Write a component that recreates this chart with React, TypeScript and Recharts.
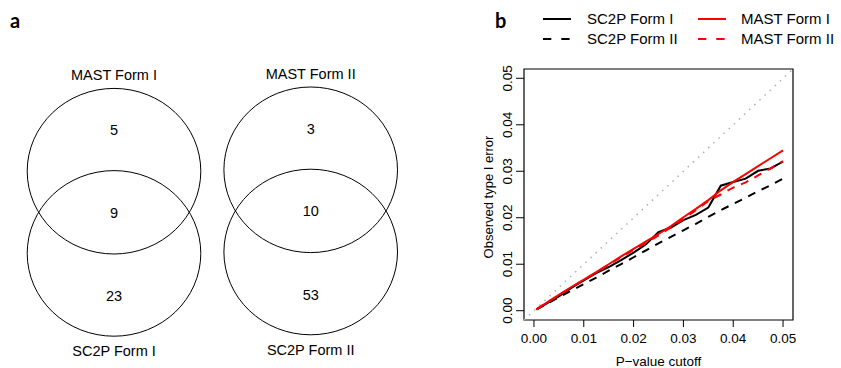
import React from "react";
import {
  Label,
  Legend,
  Line,
  LineChart,
  ReferenceArea,
  ReferenceLine,
  Scatter,
  ScatterChart,
  XAxis,
  YAxis,
} from "recharts";

const FONT = '"Liberation Sans", Arial, Helvetica, sans-serif';

// panel a: overlap of DE genes
const mastLabels = ["MAST Form I", "MAST Form II"];
const sc2pLabels = ["SC2P Form I", "SC2P Form II"];
const mastOnly = [5, 3];
const shared = [9, 10];
const sc2pOnly = [23, 53];

// panel b: observed type I error vs cutoff
const pCutoffs = [
  0.0005, 0.0025, 0.005, 0.0075, 0.01, 0.0125, 0.015, 0.0175, 0.02, 0.0225, 0.025,
  0.0275, 0.03, 0.0325, 0.035, 0.0375, 0.04, 0.0425, 0.045, 0.0475, 0.05,
];
const sc2pFormI = [
  0.0003, 0.0015, 0.0031, 0.0049, 0.0065, 0.0081, 0.0094, 0.0109, 0.0125, 0.0143, 0.0169,
  0.0179, 0.0195, 0.0206, 0.0222, 0.0269, 0.0277, 0.0284, 0.0301, 0.0306, 0.0321,
];
const sc2pFormII = [
  0.0003, 0.0014, 0.0029, 0.0043, 0.0057, 0.0071, 0.0086, 0.01, 0.0115, 0.013, 0.0145,
  0.0159, 0.0173, 0.0187, 0.0202, 0.0216, 0.023, 0.0243, 0.0257, 0.027, 0.0284,
];
const mastFormI = [
  0.0003, 0.0017, 0.0034, 0.0051, 0.0067, 0.0083, 0.01, 0.0117, 0.0133, 0.0149, 0.0165,
  0.0182, 0.0201, 0.0219, 0.0238, 0.0259, 0.0277, 0.0294, 0.0311, 0.0328, 0.0345,
];
const mastFormII = [
  0.0003, 0.0017, 0.0033, 0.005, 0.0066, 0.0082, 0.0099, 0.0115, 0.0131, 0.0146, 0.0162,
  0.0179, 0.0197, 0.0216, 0.0236, 0.025, 0.0265, 0.0276, 0.0291, 0.0306, 0.0322,
];
const axisTicks = [0, 0.01, 0.02, 0.03, 0.04, 0.05];

const series = [
  { key: "sc2pI", name: "SC2P Form I", values: sc2pFormI, color: "#000", dash: undefined },
  { key: "sc2pII", name: "SC2P Form II", values: sc2pFormII, color: "#000", dash: "8 7" },
  { key: "mastI", name: "MAST Form I", values: mastFormI, color: "#f00", dash: undefined },
  { key: "mastII", name: "MAST Form II", values: mastFormII, color: "#f00", dash: "8 7" },
];

const rows = pCutoffs.map((p, i) => {
  const row: Record<string, number> = { p };
  series.forEach((s) => (row[s.key] = s.values[i]));
  return row;
});

// venn layout (pixels)
const pairX = [114, 310.7];
const pairTop = [171.2, 169.8];
const circleGap = 82.2;
const RX = 86.8;
const RY = 82.8;

const circles = pairX.flatMap((x, i) => [
  { x, y: pairTop[i] },
  { x, y: pairTop[i] + circleGap },
]);
const vennText = pairX.flatMap((x, i) => [
  { x, y: pairTop[i] - 96.5, text: mastLabels[i] },
  { x, y: pairTop[i] - 41.3, text: String(mastOnly[i]) },
  { x, y: pairTop[i] + 41.3, text: String(shared[i]) },
  { x, y: pairTop[i] + 124.8, text: String(sc2pOnly[i]) },
  { x, y: pairTop[i] + 180, text: sc2pLabels[i] },
]);

const LO = -0.002;
const HI = 0.052;

function VennPanel() {
  return (
    <ScatterChart width={420} height={368} margin={{ top: 0, right: 0, bottom: 0, left: 0 }}>
      <XAxis type="number" dataKey="x" domain={[0, 420]} hide />
      <YAxis type="number" dataKey="y" domain={[0, 368]} reversed hide />
      <Scatter
        data={circles}
        isAnimationActive={false}
        shape={(props: any) => (
          <ellipse cx={props.cx} cy={props.cy} rx={RX} ry={RY} fill="none" stroke="#000" strokeWidth={1} />
        )}
      />
      <Scatter
        data={vennText}
        isAnimationActive={false}
        shape={(props: any) => (
          <text
            x={props.cx}
            y={props.cy}
            dy="0.36em"
            textAnchor="middle"
            fontFamily={FONT}
            fontSize={14.5}
            fill="#000"
          >
            {props.payload.text}
          </text>
        )}
      />
    </ScatterChart>
  );
}

const YTick = (props: any) => (
  <text
    transform={`translate(86.7, ${props.y}) rotate(-90)`}
    dy="0.36em"
    textAnchor="middle"
    fontFamily={FONT}
    fontSize={13.5}
    fill="#000"
  >
    {Number(props.payload.value).toFixed(2)}
  </text>
);

const legendCols = [
  { lineX: 123, textX: 167 },
  { lineX: 278, textX: 321 },
];

const renderLegend = () => (
  <svg width={421} height={50} style={{ position: "absolute", left: 0, top: 0, overflow: "visible" }}>
    {series.map((s, i) => {
      const col = legendCols[Math.floor(i / 2)];
      const y = i % 2 === 0 ? 19 : 39;
      return (
        <g key={s.key}>
          <line
            x1={col.lineX}
            x2={col.lineX + 28}
            y1={y}
            y2={y}
            stroke={s.color}
            strokeWidth={2}
            strokeDasharray={s.dash ? "8.3 10" : undefined}
          />
          <text x={col.textX} y={y} dy="0.36em" fontFamily={FONT} fontSize={15} fill="#000">
            {s.name}
          </text>
        </g>
      );
    })}
  </svg>
);

function ErrorPanel() {
  return (
    <LineChart width={421} height={368} data={rows} margin={{ top: 69, right: 48, bottom: 18, left: 64 }}>
      <Legend
        verticalAlign="top"
        align="left"
        content={renderLegend}
        wrapperStyle={{ top: 0, left: 0, height: 0, width: 421 }}
      />
      <XAxis
        type="number"
        dataKey="p"
        domain={[LO, HI]}
        ticks={axisTicks}
        height={30}
        tickSize={7}
        tickMargin={6}
        axisLine={false}
        stroke="#000"
        tickFormatter={(v: number) => v.toFixed(2)}
        tick={{ fill: "#000", fontSize: 13.5, fontFamily: FONT }}
      >
        <Label
          content={(props: any) => (
            <text x={238.5} y={366} textAnchor="middle" fontFamily={FONT} fontSize={13.5} fill="#000">
              P−value cutoff
            </text>
          )}
        />
      </XAxis>
      <YAxis
        type="number"
        domain={[LO, HI]}
        ticks={axisTicks}
        width={40}
        tickSize={8}
        axisLine={false}
        stroke="#000"
        tick={YTick}
      >
        <Label
          content={() => (
            <text
              transform="translate(68, 197) rotate(-90)"
              dy="0.36em"
              textAnchor="middle"
              fontFamily={FONT}
              fontSize={13}
              fill="#000"
            >
              Observed type I error
            </text>
          )}
        />
      </YAxis>
      <ReferenceLine
        segment={[
          { x: LO, y: LO },
          { x: HI, y: HI },
        ]}
        stroke="#b0b0b0"
        strokeWidth={1.5}
        strokeDasharray="1.5 5.5"
      />
      {series.map((s) => (
        <Line
          key={s.key}
          type="linear"
          dataKey={s.key}
          name={s.name}
          stroke={s.color}
          strokeWidth={2}
          strokeDasharray={s.dash}
          dot={false}
          isAnimationActive={false}
        />
      ))}
      <ReferenceArea x1={LO} x2={HI} y1={LO} y2={HI} fill="none" stroke="#000" strokeWidth={1.2} />
    </LineChart>
  );
}

export default function App() {
  return (
    <div style={{ position: "absolute", left: 0, top: 0, width: 841, height: 368, background: "#fff" }}>
      <div style={{ position: "absolute", left: 0, top: 0 }}>
        <VennPanel />
      </div>
      <div style={{ position: "absolute", left: 420, top: 0 }}>
        <ErrorPanel />
      </div>
      <svg width={841} height={368} style={{ position: "absolute", left: 0, top: 0, pointerEvents: "none" }}>
        <text x={10} y={28} fontFamily="Lato, 'Open Sans', sans-serif" fontWeight="bold" fontSize={20} fill="#000">
          a
        </text>
        <text x={495} y={28} fontFamily="Lato, 'Open Sans', sans-serif" fontWeight="bold" fontSize={20} fill="#000">
          b
        </text>
      </svg>
    </div>
  );
}
